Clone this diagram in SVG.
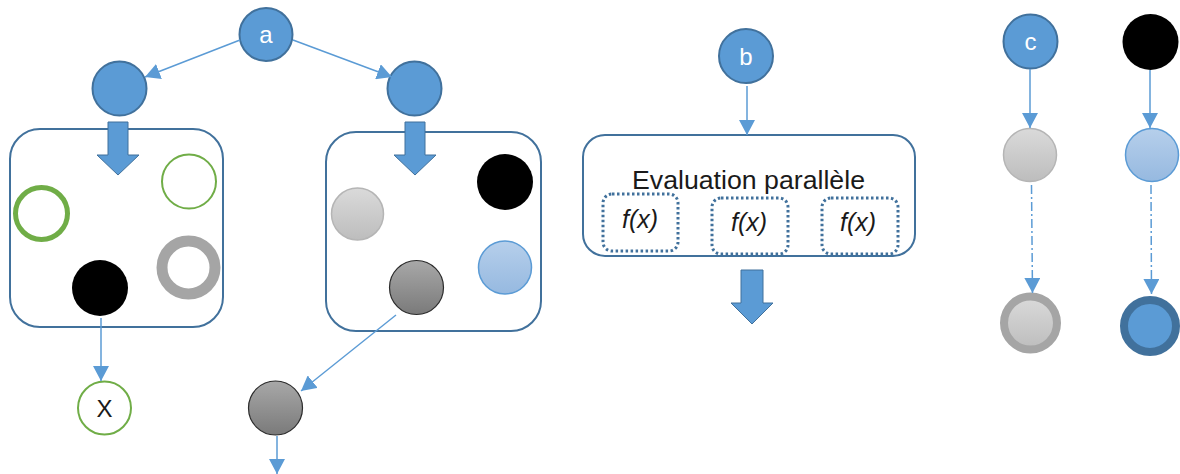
<svg xmlns="http://www.w3.org/2000/svg" width="1180" height="474" viewBox="0 0 1180 474">
  <defs>
    <linearGradient id="gLight" x1="0" y1="0" x2="0" y2="1">
      <stop offset="0" stop-color="#dadada"/>
      <stop offset="1" stop-color="#bdbdbd"/>
    </linearGradient>
    <linearGradient id="gDark" x1="0" y1="0" x2="0" y2="1">
      <stop offset="0" stop-color="#a8a8a8"/>
      <stop offset="1" stop-color="#7a7a7a"/>
    </linearGradient>
    <linearGradient id="gPale" x1="0" y1="0" x2="0" y2="1">
      <stop offset="0" stop-color="#b6cfeb"/>
      <stop offset="1" stop-color="#96b9e0"/>
    </linearGradient>
    <marker id="tip" markerUnits="userSpaceOnUse" markerWidth="16" markerHeight="16" refX="15" refY="8" orient="auto">
      <path d="M0,0 L15,8 L0,16 Z" fill="#5b9bd5"/>
    </marker>
    <style>
      .blue { fill: #5b9bd5; stroke: #41719c; stroke-width: 2; }
      .frame { fill: none; stroke: #41719c; stroke-width: 2; }
      .link { fill: none; stroke: #5b9bd5; stroke-width: 1.5; marker-end: url(#tip); }
      .dashdot { stroke-dasharray: 9 3 2 3; }
      .block { fill: #5b9bd5; stroke: #41719c; stroke-width: 1; }
      .dotted { fill: none; stroke: #41719c; stroke-width: 3; stroke-dasharray: 2.5 2.5; }
      .lbl { font-family: "Liberation Sans", Arial, sans-serif; font-size: 24px; fill: #ffffff; text-anchor: middle; }
      .txt { font-family: "Liberation Sans", Arial, sans-serif; fill: #1a1a1a; text-anchor: middle; }
      .fx { font-family: "Liberation Sans", Arial, sans-serif; font-size: 25px; font-style: italic; fill: #1a1a1a; text-anchor: middle; }
    </style>
  </defs>

  <rect width="1180" height="474" fill="#ffffff"/>

  <!-- (a) population split into two groups -->
  <g id="box-left">
    <rect class="frame" x="10" y="129" width="213" height="198" rx="30"/>
    <circle cx="41.5" cy="213.5" r="26" fill="none" stroke="#70ad47" stroke-width="5"/>
    <circle cx="189" cy="181.5" r="27" fill="none" stroke="#70ad47" stroke-width="2"/>
    <circle cx="100" cy="288" r="28" fill="#000000"/>
    <circle cx="188.5" cy="267.5" r="26.5" fill="none" stroke="#a5a5a5" stroke-width="11"/>
  </g>
  <g id="box-right">
    <rect class="frame" x="326" y="132" width="215" height="199" rx="30"/>
    <circle cx="357.5" cy="214" r="26" fill="url(#gLight)" stroke="#b5b5b5" stroke-width="1.5"/>
    <circle cx="505" cy="182" r="28" fill="#000000"/>
    <circle cx="416.5" cy="287.5" r="27" fill="url(#gDark)" stroke="#2b2b2b" stroke-width="1.2"/>
    <circle cx="505" cy="267.5" r="26.5" fill="url(#gPale)" stroke="#5b9bd5" stroke-width="1.5"/>
  </g>

  <g id="node-a">
    <circle class="blue" cx="266" cy="34.5" r="26.5"/>
    <text class="lbl" x="266" y="43">a</text>
  </g>
  <g id="node-left">
    <circle class="blue" cx="119.5" cy="88.5" r="27"/>
  </g>
  <g id="node-right">
    <circle class="blue" cx="414.5" cy="88.5" r="27"/>
  </g>
  <g id="node-x">
    <circle cx="104.5" cy="408" r="26.5" fill="#ffffff" stroke="#70ad47" stroke-width="2"/>
    <text class="txt" x="104.5" y="417" font-size="24">X</text>
  </g>
  <g id="node-selected">
    <circle cx="275.5" cy="408" r="27" fill="url(#gDark)" stroke="#2b2b2b" stroke-width="1.2"/>
  </g>

  <!-- (b) parallel evaluation -->
  <g id="node-b">
    <circle class="blue" cx="746" cy="56" r="27"/>
    <text class="lbl" x="746" y="65">b</text>
  </g>
  <g id="box-eval">
    <rect class="frame" x="583" y="135" width="332" height="121" rx="22"/>
    <text class="txt" x="748.5" y="189" font-size="25.5" textLength="233" lengthAdjust="spacingAndGlyphs">Evaluation parallèle</text>
    <rect class="dotted" x="603" y="194" width="75" height="57" rx="9"/>
    <rect class="dotted" x="712" y="198" width="76" height="56" rx="9"/>
    <rect class="dotted" x="822" y="198" width="76" height="56" rx="9"/>
    <text class="fx" x="640" y="228">f(x)</text>
    <text class="fx" x="749" y="231">f(x)</text>
    <text class="fx" x="858" y="231">f(x)</text>
  </g>

  <!-- (c) state transitions -->
  <g id="node-c">
    <circle class="blue" cx="1030.5" cy="41.5" r="27"/>
    <text class="lbl" x="1030.5" y="50">c</text>
  </g>
  <g id="node-black">
    <circle cx="1150.5" cy="42" r="28" fill="#000000"/>
  </g>
  <g id="node-gray">
    <circle cx="1030" cy="155" r="26.5" fill="url(#gLight)" stroke="#b5b5b5" stroke-width="1.5"/>
  </g>
  <g id="node-pale">
    <circle cx="1152" cy="155" r="26.5" fill="url(#gPale)" stroke="#5b9bd5" stroke-width="1.5"/>
  </g>
  <g id="node-gray-final">
    <circle cx="1030.5" cy="323" r="26.5" fill="url(#gLight)" stroke="#a5a5a5" stroke-width="8"/>
  </g>
  <g id="node-blue-final">
    <circle cx="1150" cy="326" r="26" fill="#5b9bd5" stroke="#41719c" stroke-width="8"/>
  </g>

  <!-- connectors -->
  <g id="connectors">
    <line class="link" x1="240" y1="40" x2="145" y2="77"/>
    <line class="link" x1="293" y1="40" x2="392" y2="77"/>
    <line class="link" x1="101" y1="318" x2="101" y2="381"/>
    <line class="link" x1="396" y1="315" x2="301" y2="391"/>
    <line class="link" x1="277" y1="436" x2="277" y2="474"/>
    <line class="link" x1="747" y1="86" x2="747" y2="135"/>
    <line class="link" x1="1030" y1="69" x2="1030" y2="128"/>
    <line class="link" x1="1150" y1="70" x2="1150" y2="128"/>
    <line class="link dashdot" x1="1031.5" y1="185" x2="1032.5" y2="293"/>
    <line class="link dashdot" x1="1151" y1="185" x2="1151.5" y2="294"/>
    <path class="block" d="M108,122 H128 V155 H139 L118,175 L97,155 H108 Z"/>
    <path class="block" d="M405,122 H425 V155 H436 L415,175 L394,155 H405 Z"/>
    <path class="block" d="M741,270 H763 V303 H773 L752,324 L731,303 H741 Z"/>
  </g>
</svg>
